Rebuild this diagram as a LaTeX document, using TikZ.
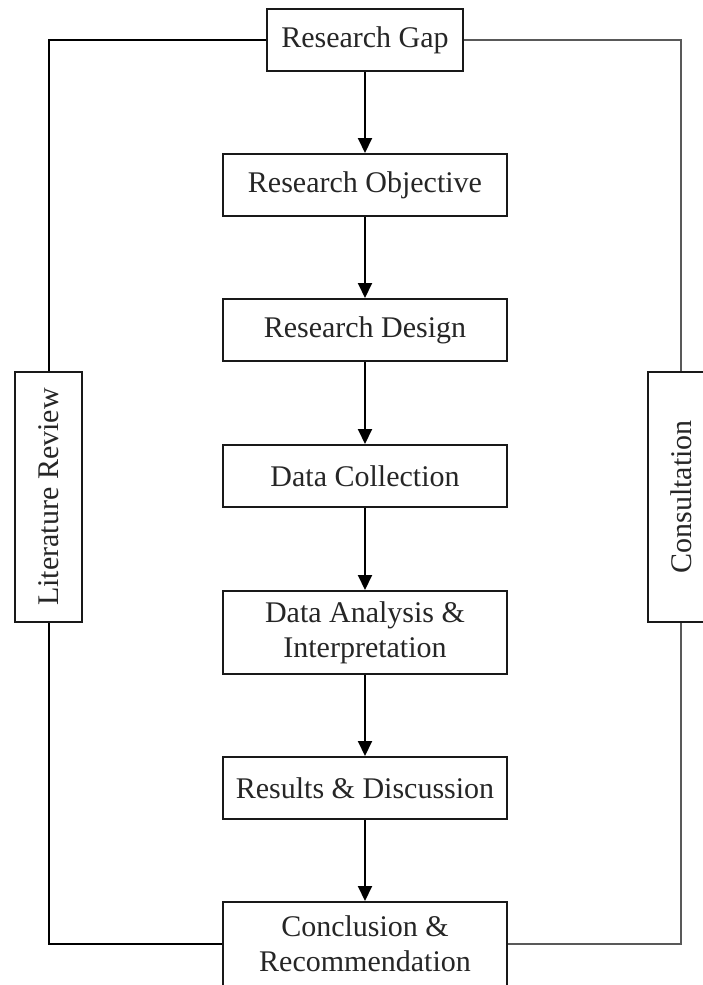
\documentclass[tikz,border=0pt]{standalone}
\usepackage{fontspec}
\setmainfont{Liberation Serif}
\usetikzlibrary{arrows.meta}
\begin{document}
\begin{tikzpicture}[x=1pt,y=-1pt,
  box/.style={draw=black!90, line width=2pt, fill=white, align=center, inner sep=0pt,
    font=\fontsize{30}{35}\selectfont, text=black!85},
  mainbox/.style={box, minimum width=284pt, minimum height=62pt},
  sidebox/.style={box, minimum width=67pt, minimum height=250pt},
  flow/.style={line width=2pt, -{Triangle[width=14pt,length=15pt]}},
  link/.style={line width=2pt},
  linkgray/.style={line width=2.2pt, draw=black!65}]
\useasboundingbox (0,0) rectangle (702,985);
\node[box, minimum width=196pt, minimum height=62pt] (gap) at (365,40) {Research Gap};
\node[mainbox] (obj) at (365,185) {Research Objective};
\node[mainbox] (des) at (365,330) {Research Design};
\node[mainbox] (col) at (365,476) {Data Collection};
\node[mainbox, minimum height=83pt] (ana) at (365,632.5) {Data Analysis \&\\Interpretation};
\node[mainbox] (res) at (365,788) {Results \& Discussion};
\node[mainbox, minimum height=84pt] (con) at (365,944) {Conclusion \&\\Recommendation};
\node[sidebox] (lit) at (48.5,497) {\rotatebox{90}{Literature Review}};
\node[sidebox, minimum width=66pt] (cons) at (681,497) {\rotatebox{90}{Consultation}};
\draw[flow] (gap) -- (obj);
\draw[flow] (obj) -- (des);
\draw[flow] (des) -- (col);
\draw[flow] (col) -- (ana);
\draw[flow] (ana) -- (res);
\draw[flow] (res) -- (con);
\draw[link] (gap.west) -| (lit);
\draw[link] (lit) |- (con.west);
\draw[linkgray] (gap.east) -| (cons);
\draw[linkgray] (cons) |- (con.east);
\end{tikzpicture}
\end{document}
